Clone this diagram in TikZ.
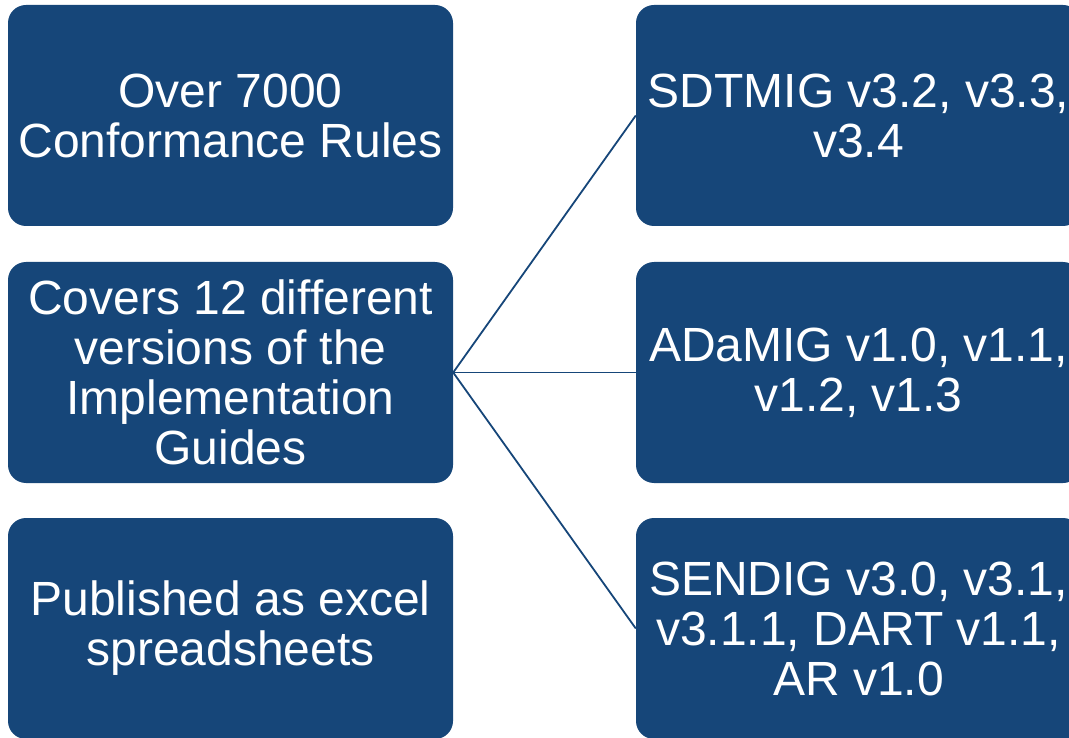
\documentclass[tikz,border=0pt]{standalone}
\usepackage{fontspec}
\setmainfont{Liberation Sans}
\definecolor{boxblue}{RGB}{22,70,121}

\begin{document}
\begin{tikzpicture}[x=1pt,y=-1pt,
  box/.style={shape=rectangle,rounded corners=18pt,fill=boxblue,text=white,align=center,minimum width=445pt,minimum height=221pt,inner sep=0pt,font=\fontsize{48}{50}\selectfont},
  link/.style={draw=boxblue,line width=1.8pt}]
\useasboundingbox (0,0) rectangle (1069,738);
\clip (0,0) rectangle (1069,738);
\node[box] (0) at (230.5,115.5) {Over 7000\\Conformance Rules};
\node[box] (1) at (230.5,372.5) {Covers 12 different\\versions of the\\Implementation\\Guides};
\node[box] (2) at (230.5,628.5) {Published as excel\\spreadsheets};
\node[box] (3) at (858.5,115.5) {SDTMIG v3.2, v3.3,\\v3.4};
\node[box] (4) at (858.5,372.5) {ADaMIG v1.0, v1.1,\\v1.2, v1.3};
\node[box] (5) at (858.5,628.5) {SENDIG v3.0, v3.1,\\v3.1.1, DART v1.1,\\AR v1.0};

\draw[link] (1.east) -- (3.west);
\draw[link] (1.east) -- (4.west);
\draw[link] (1.east) -- (5.west);

\end{tikzpicture}
\end{document}
